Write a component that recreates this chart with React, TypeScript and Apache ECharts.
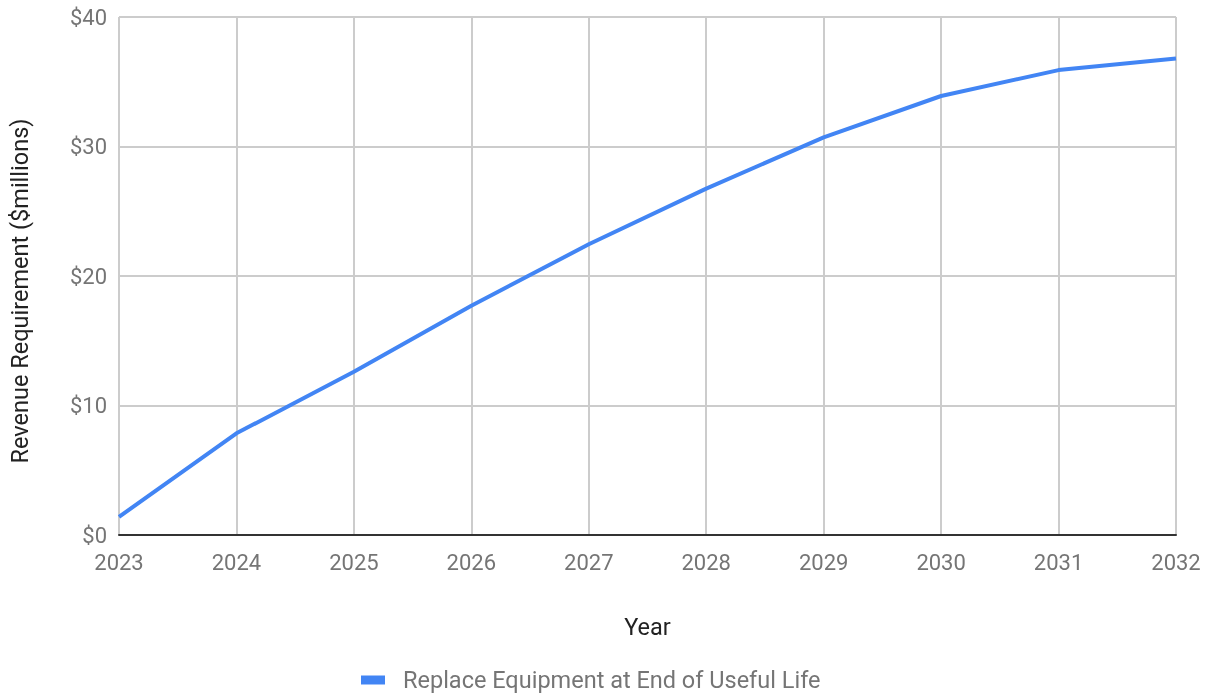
import React, { useEffect, useRef } from "react";
import * as echarts from "echarts";

const years = ["2023", "2024", "2025", "2026", "2027", "2028", "2029", "2030", "2031", "2032"];
const revenue = [1.4, 7.85, 12.6, 17.7, 22.45, 26.75, 30.7, 33.9, 35.9, 36.8];
const seriesName = "Replace Equipment at End of Useful Life";

export default function App() {
  const ref = useRef<HTMLDivElement>(null);
  useEffect(() => {
    if (!ref.current) return;
    const chart = echarts.init(ref.current, null, { renderer: "svg" });
    const font = "Roboto";
    chart.setOption({
      animation: false,
      textStyle: { fontFamily: font },
      grid: { left: 119, right: 39, top: 17, bottom: 159, containLabel: false, outerBoundsMode: "none" },
      legend: {
        bottom: 2,
        left: 361,
        padding: 0,
        data: [{ name: seriesName, icon: "rect" }],
        itemWidth: 24,
        itemHeight: 9,
        itemGap: 10,
        textStyle: { color: "#757575", fontSize: 23.5, lineHeight: 18, fontFamily: font, padding: [0, 0, 0, 13] },
      },
      xAxis: {
        type: "category",
        data: years,
        boundaryGap: false,
        name: "Year",
        nameLocation: "middle",
        nameGap: 80,
        nameTextStyle: { color: "#222222", fontSize: 23.5, fontFamily: font },
        axisLine: { show: true, lineStyle: { color: "#333333", width: 2 } },
        axisTick: { show: false },
        axisLabel: { color: "#757575", fontSize: 22, margin: 16, fontFamily: font },
        splitLine: { show: true, lineStyle: { color: "#cccccc", width: 2 } },
      },
      yAxis: {
        type: "value",
        min: 0,
        max: 40,
        interval: 10,
        name: "Revenue Requirement ($millions)",
        nameLocation: "middle",
        nameGap: 87,
        nameTextStyle: { color: "#222222", fontSize: 23.5, fontFamily: font, padding: [0, 30, 0, 0] },
        axisLine: { show: false },
        axisTick: { show: false },
        axisLabel: { color: "#757575", fontSize: 22, margin: 12, fontFamily: font, formatter: (v: number) => "$" + v },
        splitLine: { show: true, lineStyle: { color: "#cccccc", width: 2 } },
      },
      series: [
        {
          name: seriesName,
          type: "line",
          data: revenue,
          showSymbol: false,
          symbol: "none",
          lineStyle: { color: "#4285F4", width: 4 },
          itemStyle: { color: "#4285F4" },
        },
      ],
    });
    return () => chart.dispose();
  }, []);
  return <div ref={ref} style={{ position: "fixed", left: 0, top: 0, width: 1215, height: 694 }} />;
}
